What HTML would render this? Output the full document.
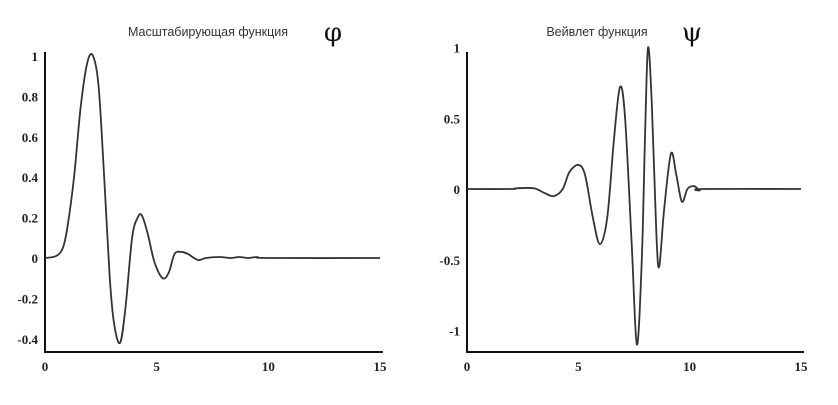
<!DOCTYPE html>
<html><head><meta charset="utf-8"><style>
body{margin:0;background:#fff;width:838px;height:400px;overflow:hidden}
svg{font-family:"Liberation Sans","DejaVu Sans",sans-serif}
.tk{font-family:"Liberation Serif",serif;font-weight:bold;font-size:13px;fill:#222}
</style></head><body>
<svg id="s" width="838" height="400"></svg>
<script>
const phiX=[0,0.5,0.8,1.0,1.3,1.6,1.9,2.15,2.4,2.65,2.9,3.1,3.36,3.6,3.9,4.15,4.34,4.6,4.9,5.27,5.55,5.8,6.1,6.4,6.85,7.2,7.8,8.3,8.7,9.1,9.5,10,15];
const phiY=[0,0.01,0.05,0.15,0.4,0.75,0.97,1.0,0.85,0.4,-0.1,-0.33,-0.42,-0.25,0.1,0.2,0.21,0.12,-0.02,-0.1,-0.07,0.02,0.03,0.02,-0.01,0,0.005,0,0.005,0,0.005,0,0];
const psiX=[0,2,2.2,3,3.5,3.9,4.3,4.6,5,5.3,5.65,5.97,6.3,6.6,6.87,7.1,7.4,7.63,7.85,8.0,8.13,8.3,8.5,8.63,8.85,9.16,9.4,9.65,9.9,10.2,10.45,10.6,15];
const psiY=[0,0,0.005,0.005,-0.03,-0.05,0,0.12,0.17,0.1,-0.2,-0.39,-0.2,0.35,0.72,0.5,-0.4,-1.1,-0.5,0.4,1.0,0.6,-0.3,-0.55,-0.15,0.25,0.1,-0.09,0.0,0.02,-0.01,0,0];
const xTicks=[0,5,10,15];
const phiTicks=[1,0.8,0.6,0.4,0.2,0,-0.2,-0.4];
const phiLabels=["1","0.8","0.6","0.4","0.2","0","-0.2","-0.4"];
const psiTicks=[1,0.5,0,-0.5,-1];
const psiLabels=["1","0.5","0","-0.5","-1"];
const NS="http://www.w3.org/2000/svg";
const svg=document.getElementById('s');
function mk(t,a,p){const e=document.createElementNS(NS,t);for(const k in a)e.setAttribute(k,a[k]);(p||svg).appendChild(e);return e;}
function chart(name,x0,x1,y0v,y0p,yScale,xs,ys,ticks,labels,title,sym,titleX,symX){
  const g=mk('g',{});
  
  
  const sx=v=>x0+(x1-x0)*v/15, sy=v=>y0p-(v-y0v)*yScale;
  const ax=mk('path',{d:`M${x0} 52V352H${x1+3}`,stroke:'#111','stroke-width':2,fill:'none'},g);
  
  
  xTicks.forEach(v=>{const t=mk('text',{x:sx(v),y:371,'text-anchor':'middle',class:'tk'},g);t.textContent=v;
    
    });
  ticks.forEach((v,i)=>{const t=mk('text',{x:x0-7,y:sy(v)+5,'text-anchor':'end',class:'tk'},g);t.textContent=labels[i];
    
    });
  const P=xs.map((x,i)=>[sx(x),sy(ys[i])]);
  let d=`M${P[0][0]} ${P[0][1]}`;
  for(let i=0;i<P.length-1;i++){const a=P[Math.max(i-1,0)],b=P[i],c=P[i+1],e=P[Math.min(i+2,P.length-1)];
    d+=`C${b[0]+(c[0]-a[0])/6} ${b[1]+(c[1]-a[1])/6} ${c[0]-(e[0]-b[0])/6} ${c[1]-(e[1]-b[1])/6} ${c[0]} ${c[1]}`;}
  const ln=mk('path',{d,stroke:'#333','stroke-width':1.8,fill:'none'},g);
  
  
  const tt=mk('text',{x:titleX,y:36,'text-anchor':'middle','font-size':12.5,fill:'#333'},g);tt.textContent=title;
  
  
  const sm=mk('text',{x:symX,y:41,'text-anchor':'middle','font-size':26,fill:'#111','font-family':'DejaVu Serif,serif'},g);sm.textContent=sym;
  
  
}
chart('phi-chart',45,380,0,258,202,phiX,phiY,phiTicks,phiLabels,'Масштабирующая функция','φ',208,333);
chart('psi-chart',467,801,0,189,141.5,psiX,psiY,psiTicks,psiLabels,'Вейвлет  функция','ψ',597,692);
</script>
</body></html>
